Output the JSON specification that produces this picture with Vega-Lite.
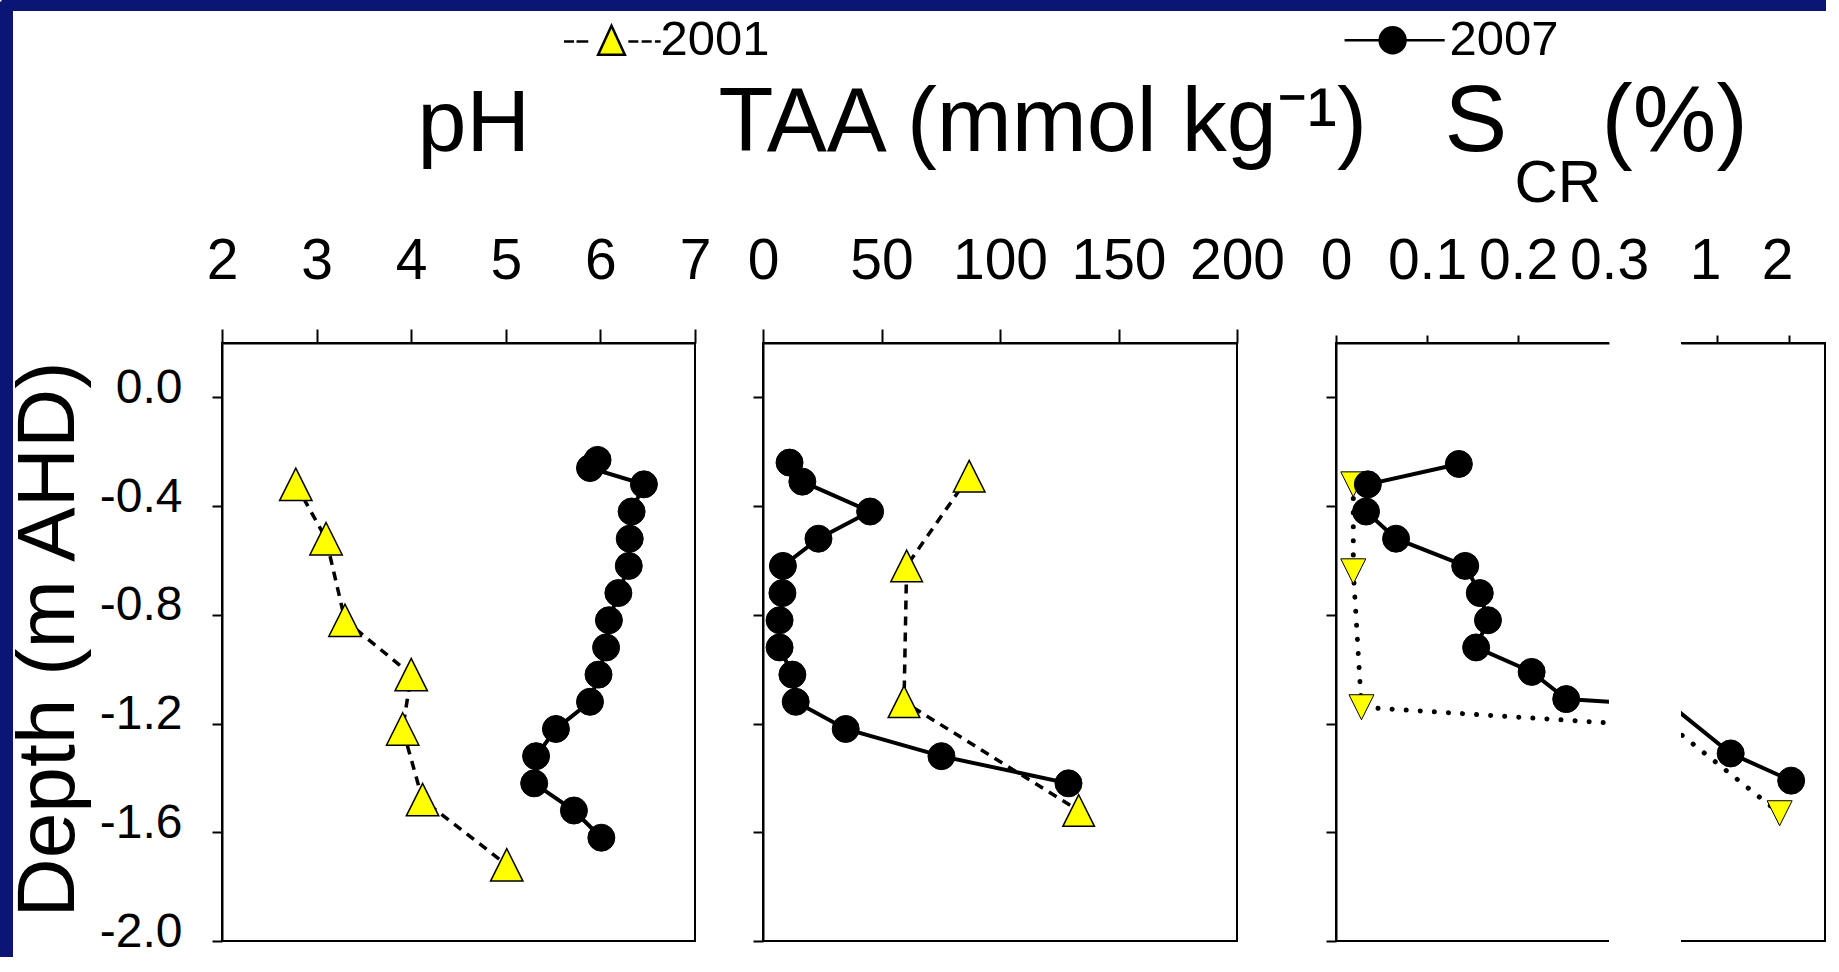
{
  "$schema": "https://vega.github.io/schema/vega-lite/v6.json",
  "padding": 0,
  "background": "white",
  "config": {"font": "Liberation Sans, Arial, Helvetica, sans-serif", "view": {"stroke": null}},
  "bounds": "flush",
  "spacing": 0,
  "datasets": {
    "ph": [
      {"year": "2001", "pH": 2.78, "depth": -0.32}, {"year": "2001", "pH": 3.10, "depth": -0.52},
      {"year": "2001", "pH": 3.30, "depth": -0.82}, {"year": "2001", "pH": 4.00, "depth": -1.02},
      {"year": "2001", "pH": 3.91, "depth": -1.22}, {"year": "2001", "pH": 4.12, "depth": -1.48},
      {"year": "2001", "pH": 5.01, "depth": -1.72},
      {"year": "2007", "pH": 5.97, "depth": -0.23}, {"year": "2007", "pH": 5.89, "depth": -0.26},
      {"year": "2007", "pH": 6.46, "depth": -0.32}, {"year": "2007", "pH": 6.33, "depth": -0.42},
      {"year": "2007", "pH": 6.31, "depth": -0.52}, {"year": "2007", "pH": 6.30, "depth": -0.62},
      {"year": "2007", "pH": 6.19, "depth": -0.72}, {"year": "2007", "pH": 6.09, "depth": -0.82},
      {"year": "2007", "pH": 6.06, "depth": -0.92}, {"year": "2007", "pH": 5.98, "depth": -1.02},
      {"year": "2007", "pH": 5.89, "depth": -1.12}, {"year": "2007", "pH": 5.53, "depth": -1.22},
      {"year": "2007", "pH": 5.32, "depth": -1.32}, {"year": "2007", "pH": 5.30, "depth": -1.42},
      {"year": "2007", "pH": 5.72, "depth": -1.52}, {"year": "2007", "pH": 6.01, "depth": -1.62}
    ],
    "taa": [
      {"year": "2001", "taa": 87.0, "depth": -0.29}, {"year": "2001", "taa": 60.6, "depth": -0.62},
      {"year": "2001", "taa": 59.5, "depth": -1.12}, {"year": "2001", "taa": 133.2, "depth": -1.52},
      {"year": "2007", "taa": 11.2, "depth": -0.24}, {"year": "2007", "taa": 16.6, "depth": -0.31},
      {"year": "2007", "taa": 45.2, "depth": -0.42}, {"year": "2007", "taa": 23.4, "depth": -0.52},
      {"year": "2007", "taa": 8.4, "depth": -0.62}, {"year": "2007", "taa": 8.2, "depth": -0.72},
      {"year": "2007", "taa": 7.0, "depth": -0.82}, {"year": "2007", "taa": 7.0, "depth": -0.92},
      {"year": "2007", "taa": 12.4, "depth": -1.02}, {"year": "2007", "taa": 13.8, "depth": -1.12},
      {"year": "2007", "taa": 34.9, "depth": -1.22}, {"year": "2007", "taa": 75.3, "depth": -1.32},
      {"year": "2007", "taa": 128.9, "depth": -1.42}
    ],
    "scr": [
      {"year": "2001", "scr": 0.019, "depth": -0.32}, {"year": "2001", "scr": 0.019, "depth": -0.64},
      {"year": "2001", "scr": 0.028, "depth": -1.14}, {"year": "2001", "scr": 1.87, "depth": -1.53},
      {"year": "2007", "scr": 0.135, "depth": -0.245}, {"year": "2007", "scr": 0.035, "depth": -0.32},
      {"year": "2007", "scr": 0.033, "depth": -0.42}, {"year": "2007", "scr": 0.066, "depth": -0.52},
      {"year": "2007", "scr": 0.142, "depth": -0.62}, {"year": "2007", "scr": 0.158, "depth": -0.72},
      {"year": "2007", "scr": 0.167, "depth": -0.82}, {"year": "2007", "scr": 0.154, "depth": -0.92},
      {"year": "2007", "scr": 0.215, "depth": -1.01}, {"year": "2007", "scr": 0.253, "depth": -1.11},
      {"year": "2007", "scr": 1.19, "depth": -1.31}, {"year": "2007", "scr": 2.03, "depth": -1.41}
    ]
  },
  "hconcat": [
    {
      "width": 221, "height": 598,
      "view": {"stroke": null},
      "mark": {"type": "point", "opacity": 0},
      "encoding": {
        "x": {"datum": 0, "type": "quantitative", "scale": {"domain": [0, 1], "range": [0, 1825], "nice": false, "zero": false},
              "axis": {"orient": "top", "offset": 342.5, "domain": true, "domainColor": "#0a1574", "domainWidth": 20, "ticks": false, "labels": false, "grid": false, "title": null}},
        "y": {"datum": 1, "type": "quantitative", "scale": {"domain": [0, 1], "range": [956, 0], "nice": false, "zero": false},
              "axis": {"orient": "left", "offset": 0.5, "position": -342, "domain": true, "domainColor": "#0a1574", "domainWidth": 24, "ticks": false, "labels": false, "grid": false, "title": null}}
      }
    },
    {
      "width": 473, "height": 598,
      "view": {"stroke": "black", "strokeWidth": 2},
      "data": {"name": "ph"},
      "encoding": {
        "x": {"field": "pH", "type": "quantitative", "scale": {"domain": [2, 7], "nice": false, "zero": false},
              "axis": {"orient": "top", "values": [2, 3, 4, 5, 6, 7], "format": "d", "grid": false, "domainColor": "black", "domainWidth": 2,
                       "tickSize": 14, "tickWidth": 2, "tickColor": "black", "labelFontSize": 57, "labelColor": "black", "labelPadding": 50.5,
                       "labelBaseline": "alphabetic", "labelFlush": false, "labelOverlap": false,
                       "title": "pH", "titleFontSize": 88, "titleFontWeight": "normal", "titleColor": "black",
                       "titleX": 195, "titleY": -192.5, "titleAlign": "left", "titleBaseline": "alphabetic"}},
        "y": {"field": "depth", "type": "quantitative", "scale": {"domain": [-2, 0.2], "nice": false, "zero": false},
              "axis": {"orient": "left", "values": [-2, -1.6, -1.2, -0.8, -0.4, 0], "format": ".1f", "labelExpr": "replace(datum.label, '\u2212', '-')",
                       "grid": false, "domainColor": "black", "domainWidth": 2, "tickSize": 10, "tickWidth": 2, "tickColor": "black",
                       "labelFontSize": 48, "labelColor": "black", "labelPadding": 30, "labelOffset": -9, "labelFlush": false, "labelOverlap": false,
                       "title": "Depth (m AHD)", "titleFontSize": 82, "titleFontWeight": "normal", "titleColor": "black",
                       "titleAngle": 270, "titleX": -149, "titleY": 296, "titleAlign": "center", "titleBaseline": "alphabetic"}}
      },
      "layer": [
        {
          "transform": [{"filter": "datum.year === '2001'"}],
          "mark": {"type": "line", "stroke": "black", "strokeWidth": 3.5, "strokeDash": [9, 7]},
          "encoding": {"order": {"field": "depth", "sort": "descending"}}
        },
        {
          "transform": [{"filter": "datum.year === '2007'"}],
          "mark": {"type": "line", "stroke": "black", "strokeWidth": 4},
          "encoding": {"order": {"field": "depth", "sort": "descending"}}
        },
        {
          "transform": [{"filter": "datum.year === '2001'"}],
          "mark": {"type": "point", "shape": "M0,-1L1,1L-1,1Z", "size": 1050, "filled": true, "opacity": 1, "stroke": "black", "strokeWidth": 1.5},
          "encoding": {
            "fill": {"field": "year", "type": "nominal", "scale": {"domain": ["2001", "2007"], "range": ["#ffff00", "#000000"]},
                     "legend": {"title": null, "orient": "none", "legendX": 586, "legendY": -327.5, "direction": "horizontal", "columns": 2,
                                "columnPadding": 569, "padding": 0, "symbolSize": 713, "labelFontSize": 49, "labelColor": "black",
                                "labelOffset": 24.5, "labelLimit": 0,
                                "encoding": {"symbols": {
                                  "shape": {"condition": {"test": "datum.value === '2001'", "value": "M-3.56,0.1H-2.81M-2.62,0.1H-1.74M1.26,0.1H2.01M2.26,0.1H3.01M3.26,0.1H3.68M0,-1.09L1,1.09L-1,1.09Z"},
                                            "value": "M-4.19,0H3.31M0.38,0A0.97,0.97,0,1,1,-1.56,0A0.97,0.97,0,1,1,0.38,0Z"},
                                  "stroke": {"value": "black"}, "strokeWidth": {"value": 2.5}, "opacity": {"value": 1}}}}}
          }
        },
        {
          "transform": [{"filter": "datum.year === '2007'"}],
          "mark": {"type": "point", "shape": "circle", "size": 729, "filled": true, "opacity": 1, "stroke": "black", "strokeWidth": 1},
          "encoding": {"fill": {"field": "year", "type": "nominal", "legend": null}}
        },
        {
          "data": {"values": [{}]},
          "mark": {"type": "rule", "color": "#00a650", "strokeWidth": 18},
          "encoding": {"x": {"datum": 3.62}, "x2": {"datum": 5.45}, "y": {"datum": -0.84}}
        },
        {
          "data": {"values": [{}]},
          "mark": {"type": "point", "shape": "M-0.62,-1L0.62,0L-0.62,1Z", "size": 2809, "filled": true, "opacity": 1, "color": "#00a650"},
          "encoding": {"x": {"datum": 5.61}, "y": {"datum": -0.84}}
        }
      ]
    },
    {"width": 68, "height": 598, "view": {"stroke": null}, "mark": {"type": "point", "opacity": 0}},
    {
      "width": 474, "height": 598,
      "view": {"stroke": "black", "strokeWidth": 2},
      "data": {"name": "taa"},
      "encoding": {
        "x": {"field": "taa", "type": "quantitative", "scale": {"domain": [0, 200], "nice": false, "zero": false},
              "axis": {"orient": "top", "values": [0, 50, 100, 150, 200], "format": "d", "grid": false, "domainColor": "black", "domainWidth": 2,
                       "tickSize": 14, "tickWidth": 2, "tickColor": "black", "labelFontSize": 57, "labelColor": "black", "labelPadding": 50.5,
                       "labelBaseline": "alphabetic", "labelFlush": false, "labelOverlap": false,
                       "title": "TAA (mmol kg\u207b\u00b9)", "titleFontSize": 90, "titleFontWeight": "normal", "titleColor": "black",
                       "titleX": -45, "titleY": -192.5, "titleAlign": "left", "titleBaseline": "alphabetic"}},
        "y": {"field": "depth", "type": "quantitative", "scale": {"domain": [-2, 0.2], "nice": false, "zero": false},
              "axis": {"orient": "left", "values": [-2, -1.6, -1.2, -0.8, -0.4, 0], "labels": false, "grid": false, "domainColor": "black", "domainWidth": 2,
                       "tickSize": 10, "tickWidth": 2, "tickColor": "black", "title": null}}
      },
      "layer": [
        {
          "transform": [{"filter": "datum.year === '2001'"}],
          "mark": {"type": "line", "stroke": "black", "strokeWidth": 3.5, "strokeDash": [9, 7]},
          "encoding": {"order": {"field": "depth", "sort": "descending"}}
        },
        {
          "transform": [{"filter": "datum.year === '2007'"}],
          "mark": {"type": "line", "stroke": "black", "strokeWidth": 4},
          "encoding": {"order": {"field": "depth", "sort": "descending"}}
        },
        {
          "transform": [{"filter": "datum.year === '2001'"}],
          "mark": {"type": "point", "shape": "M0,-1L1,1L-1,1Z", "size": 1000, "filled": true, "opacity": 1, "stroke": "black", "strokeWidth": 1.5},
          "encoding": {"fill": {"field": "year", "type": "nominal", "legend": null}}
        },
        {
          "transform": [{"filter": "datum.year === '2007'"}],
          "mark": {"type": "point", "shape": "circle", "size": 729, "filled": true, "opacity": 1, "stroke": "black", "strokeWidth": 1},
          "encoding": {"fill": {"field": "year", "type": "nominal", "legend": null}}
        },
        {
          "data": {"values": [{}]},
          "mark": {"type": "rule", "color": "#00a650", "strokeWidth": 19},
          "encoding": {"x": {"datum": 57.2}, "x2": {"datum": 27.5}, "y": {"datum": -0.85}}
        },
        {
          "data": {"values": [{}]},
          "mark": {"type": "point", "shape": "M0.62,-1L-0.62,0L0.62,1Z", "size": 2809, "filled": true, "opacity": 1, "color": "#00a650"},
          "encoding": {"x": {"datum": 20.9}, "y": {"datum": -0.85}}
        }
      ]
    },
    {"width": 99, "height": 598, "view": {"stroke": null}, "mark": {"type": "point", "opacity": 0}},
    {
      "width": 273, "height": 598,
      "view": {"stroke": "black", "strokeWidth": 2, "strokeDash": [273, 598, 871]},
      "data": {"name": "scr"},
      "encoding": {
        "x": {"field": "scr", "type": "quantitative", "scale": {"domain": [0, 0.3], "nice": false, "zero": false},
              "axis": {"orient": "top", "values": [0, 0.1, 0.2, 0.3], "format": "~g", "grid": false, "domainColor": "black", "domainWidth": 2,
                       "tickSize": 8, "tickWidth": 2, "tickColor": "black",
                       "tickOpacity": {"condition": {"test": "datum.value > 0.25", "value": 0}, "value": 1},
                       "labelFontSize": 57, "labelColor": "black", "labelPadding": 56.5,
                       "labelBaseline": "alphabetic", "labelFlush": false, "labelOverlap": false,
                       "title": "S", "titleFontSize": 94, "titleFontWeight": "normal", "titleColor": "black",
                       "titleX": 108, "titleY": -192.5, "titleAlign": "left", "titleBaseline": "alphabetic"}},
        "y": {"field": "depth", "type": "quantitative", "scale": {"domain": [-2, 0.2], "nice": false, "zero": false},
              "axis": {"orient": "left", "values": [-2, -1.6, -1.2, -0.8, -0.4, 0], "labels": false, "grid": false, "domainColor": "black", "domainWidth": 2,
                       "tickSize": 10, "tickWidth": 2, "tickColor": "black",
                       "title": "(%)", "titleFontSize": 94, "titleFontWeight": "normal", "titleColor": "black", "titleAngle": 0,
                       "titleX": 265, "titleY": -192.5, "titleAlign": "left", "titleBaseline": "alphabetic"}}
      },
      "layer": [
        {
          "transform": [{"filter": "datum.year === '2001'"}],
          "mark": {"type": "line", "stroke": "black", "strokeWidth": 5, "strokeDash": [0.1, 14], "strokeCap": "round", "clip": true},
          "encoding": {"order": {"field": "depth", "sort": "descending"}}
        },
        {
          "transform": [{"filter": "datum.year === '2007'"}],
          "mark": {"type": "line", "stroke": "black", "strokeWidth": 4, "clip": true},
          "encoding": {"order": {"field": "depth", "sort": "descending"}}
        },
        {
          "transform": [{"filter": "datum.year === '2001'"}],
          "mark": {"type": "point", "shape": "M0,1L1,-1L-1,-1Z", "size": 625, "filled": true, "opacity": 1, "stroke": "black", "strokeWidth": 1, "clip": true},
          "encoding": {"fill": {"field": "year", "type": "nominal", "legend": null}}
        },
        {
          "transform": [{"filter": "datum.year === '2007'"}],
          "mark": {"type": "point", "shape": "circle", "size": 729, "filled": true, "opacity": 1, "stroke": "black", "strokeWidth": 1, "clip": true},
          "encoding": {"fill": {"field": "year", "type": "nominal", "legend": null}}
        },
        {
          "data": {"values": [{}]},
          "mark": {"type": "rule", "color": "#00a650", "strokeWidth": 17},
          "encoding": {"x": {"datum": 0.0388}, "x2": {"datum": 0.108}, "y": {"datum": -0.80}}
        },
        {
          "data": {"values": [{}]},
          "mark": {"type": "point", "shape": "M-0.7,-1L0.7,0L-0.7,1Z", "size": 1936, "filled": true, "opacity": 1, "color": "#00a650"},
          "encoding": {"x": {"datum": 0.1227}, "y": {"datum": -0.80}}
        }
      ]
    },
    {"width": 72, "height": 598, "view": {"stroke": null}, "mark": {"type": "point", "opacity": 0}},
    {
      "width": 144, "height": 598,
      "view": {"stroke": "black", "strokeWidth": 2, "strokeDash": [886, 598]},
      "data": {"name": "scr"},
      "encoding": {
        "x": {"field": "scr", "type": "quantitative", "scale": {"domain": [0.5, 2.5], "nice": false, "zero": false},
              "axis": {"orient": "top", "values": [1, 2], "format": "~g", "grid": false, "domainColor": "black", "domainWidth": 2,
                       "tickSize": 8, "tickWidth": 2, "tickColor": "black",
                       "labelFontSize": 57, "labelColor": "black", "labelPadding": 56.5, "labelOffset": -12,
                       "labelBaseline": "alphabetic", "labelFlush": false, "labelOverlap": false,
                       "title": "CR", "titleFontSize": 60, "titleFontWeight": "normal", "titleColor": "black",
                       "titleX": -167, "titleY": -142, "titleAlign": "left", "titleBaseline": "alphabetic"}},
        "y": {"field": "depth", "type": "quantitative", "scale": {"domain": [-2, 0.2], "nice": false, "zero": false},
              "axis": {"orient": "right", "domain": false, "ticks": false, "labels": false, "grid": false, "title": null}}
      },
      "layer": [
        {
          "transform": [{"filter": "datum.year === '2001'"}],
          "mark": {"type": "line", "stroke": "black", "strokeWidth": 5, "strokeDash": [0.1, 14], "strokeCap": "round", "clip": true},
          "encoding": {"order": {"field": "depth", "sort": "descending"}}
        },
        {
          "transform": [{"filter": "datum.year === '2007'"}],
          "mark": {"type": "line", "stroke": "black", "strokeWidth": 4, "clip": true},
          "encoding": {"order": {"field": "depth", "sort": "descending"}}
        },
        {
          "transform": [{"filter": "datum.year === '2001'"}],
          "mark": {"type": "point", "shape": "M0,1L1,-1L-1,-1Z", "size": 625, "filled": true, "opacity": 1, "stroke": "black", "strokeWidth": 1, "clip": true},
          "encoding": {"fill": {"field": "year", "type": "nominal", "legend": null}}
        },
        {
          "transform": [{"filter": "datum.year === '2007'"}],
          "mark": {"type": "point", "shape": "circle", "size": 729, "filled": true, "opacity": 1, "stroke": "black", "strokeWidth": 1, "clip": true},
          "encoding": {"fill": {"field": "year", "type": "nominal", "legend": null}}
        }
      ]
    }
  ]
}
